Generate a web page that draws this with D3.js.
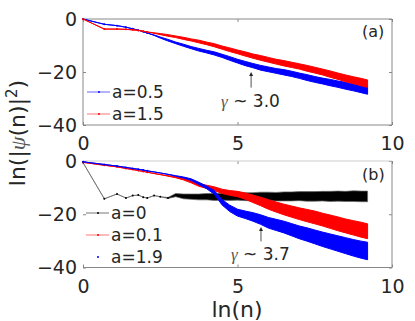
<!DOCTYPE html>
<html>
<head>
<meta charset="utf-8">
<script src="https://cdn.jsdelivr.net/npm/d3@7"></script>
<style>
  body { margin: 0; background: #fff; }
  text { font-family: "DejaVu Sans", sans-serif; fill: #262626; }
</style>
</head>
<body>
<div id="chart"></div>
<script>
// ln(n) grid (first points are n = 1..8)
var lnN = [0, 0.69, 1.10, 1.39, 1.61, 1.79, 1.95, 2.08, 2.3, 2.5, 2.75, 3.0, 3.25, 3.5, 3.75, 4.0, 4.25, 4.5,
  4.75, 5.0, 5.25, 5.5, 5.75, 6.0, 6.25, 6.5, 6.75, 7.0, 7.25, 7.5, 7.75, 8.0, 8.25, 8.5, 8.75, 9.0, 9.21];

// panel (a): ln|psi(n)|^2, centre of the trace and half spread of its noise
var topA05 = [0, -2.0, -2.5, -3.1, -3.7, -4.2, -4.8, -5.3, -6.1, -7.0, -8.0, -9.0, -9.9, -10.8, -11.6, -12.3, -13.0, -13.9,
  -14.9, -15.9, -16.8, -17.6, -18.4, -19.0, -19.6, -20.1, -20.7, -21.4, -22.1, -22.8, -23.4, -24.0, -24.6, -25.2, -25.8, -26.4, -27.0];
var topA05Spread = [0, 0, 0, 0, 0, 0, 0, 0, 0.1, 0.2, 0.3, 0.3, 0.4, 0.4, 0.5, 0.5, 0.6, 0.6,
  0.7, 0.7, 0.8, 0.8, 0.9, 0.9, 0.9, 1.0, 1.0, 1.0, 1.1, 1.1, 1.1, 1.2, 1.2, 1.3, 1.3, 1.4, 1.4];
var topA15 = [0, -3.8, -3.8, -3.9, -4.1, -4.3, -4.6, -4.9, -5.3, -5.7, -6.2, -6.7, -7.3, -7.9, -8.5, -9.2, -9.9, -10.8,
  -11.6, -12.4, -13.2, -14.0, -14.7, -15.4, -16.1, -16.7, -17.3, -17.9, -18.6, -19.3, -20.0, -20.8, -21.6, -22.4, -23.1, -23.8, -24.4];
var topA15Spread = [0, 0, 0, 0, 0, 0, 0, 0, 0.1, 0.2, 0.3, 0.3, 0.4, 0.4, 0.5, 0.5, 0.6, 0.6,
  0.7, 0.7, 0.8, 0.8, 0.9, 0.9, 0.9, 1.0, 1.0, 1.0, 1.1, 1.1, 1.1, 1.2, 1.2, 1.3, 1.3, 1.4, 1.4];

// panel (b)
var botA0 = [-0.6, -14.2, -12.4, -13.9, -13.0, -12.8, -13.6, -13.9, -13.0, -13.4, -13.9, -12.8, -13.3, -13.4, -13.5, -13.4, -13.5, -13.4,
  -13.4, -13.3, -13.4, -13.4, -13.3, -13.3, -13.4, -13.3, -13.3, -13.2, -13.3, -13.3, -13.2, -13.3, -13.2, -13.3, -13.2, -13.3, -13.3];
var botA0Spread = [0, 0, 0, 0, 0, 0, 0, 0, 0, 0, 0.2, 0.6, 0.9, 1.0, 1.1, 1.2, 1.3, 1.3,
  1.4, 1.4, 1.5, 1.5, 1.6, 1.6, 1.6, 1.7, 1.7, 1.7, 1.8, 1.8, 1.8, 1.9, 1.9, 1.9, 2.0, 2.0, 2.0];
var botA01 = [-0.5, -1.6, -2.2, -2.8, -3.2, -3.6, -3.9, -4.2, -4.7, -5.1, -5.6, -6.1, -6.8, -7.8, -9.0, -9.7, -10.4, -11.4,
  -12.0, -12.4, -13.2, -14.2, -15.2, -16.3, -17.3, -18.2, -19.0, -19.8, -20.5, -21.2, -22.0, -22.8, -23.6, -24.4, -25.1, -25.8, -26.4];
var botA01Spread = [0, 0, 0, 0, 0, 0, 0, 0, 0, 0, 0.1, 0.2, 0.3, 0.4, 0.5, 0.6, 0.7, 0.8,
  0.9, 1.0, 1.2, 1.4, 1.6, 1.8, 1.9, 2.0, 2.1, 2.2, 2.3, 2.4, 2.4, 2.5, 2.6, 2.6, 2.7, 2.8, 2.8];
var botA19 = [-0.3, -1.3, -1.9, -2.4, -2.8, -3.1, -3.4, -3.7, -4.1, -4.5, -5.0, -5.6, -6.2, -7.0, -8.4, -9.9, -11.8, -15.5,
  -17.8, -19.4, -20.2, -21.0, -22.0, -23.2, -24.0, -24.8, -25.8, -26.8, -27.6, -28.5, -29.4, -30.2, -31.0, -31.8, -32.6, -33.3, -33.8];
var botA19Spread = [0, 0, 0, 0, 0, 0, 0, 0, 0, 0, 0, 0.1, 0.2, 0.3, 0.4, 0.5, 0.7, 1.0,
  1.2, 1.3, 1.4, 1.6, 1.8, 2.0, 2.1, 2.2, 2.3, 2.4, 2.5, 2.6, 2.7, 2.8, 2.9, 3.0, 3.1, 3.2, 3.3];

var xTicks = [0, 5, 10];
var yTicks = [-40, -20, 0];

var width = 415, height = 321;

var svg = d3.select("#chart").append("svg")
  .attr("width", width)
  .attr("height", height);

var x = d3.scaleLinear().domain([0, 10]).range([83, 392]);
var yTop = d3.scaleLinear().domain([-40, 0]).range([125, 19]);
var yBot = d3.scaleLinear().domain([-40, 0]).range([267.5, 161]);

function drawAxes(y, opts) {
  var g = svg.append("g");
  g.append("g").attr("transform", "translate(83,0)")
    .call(d3.axisLeft(y).tickValues(yTicks).tickSize(-3).tickPadding(6));
  g.append("g").attr("transform", "translate(0," + y.range()[0] + ")")
    .call(d3.axisBottom(x).tickValues(xTicks).tickSize(-3).tickPadding(12));
  g.append("g").attr("transform", "translate(392,0)")
    .call(d3.axisRight(y).tickValues(yTicks).tickSize(-3).tickFormat(""));
  g.append("g").attr("transform", "translate(0," + y.range()[1] + ")")
    .call(d3.axisTop(x).tickValues(xTicks).tickSize(-3).tickFormat(""));
  g.selectAll(".domain").remove();
  g.selectAll(".tick line").attr("stroke", "#888");
  g.selectAll(".tick text").attr("font-size", 19).attr("fill", "#262626")
    .style("font-family", "DejaVu Sans");

  // box
  var y0 = y.range()[0], y1 = y.range()[1];
  g.append("line").attr("x1", 83).attr("x2", 392).attr("y1", y0).attr("y2", y0).attr("stroke", "#888");
  g.append("line").attr("x1", 392).attr("x2", 392).attr("y1", y0).attr("y2", y1).attr("stroke", "#888");
  g.append("line").attr("x1", 83).attr("x2", 392).attr("y1", y1).attr("y2", y1)
    .attr("stroke", opts.topColor);
  if (opts.leftLine) {
    g.append("line").attr("x1", 83).attr("x2", 83).attr("y1", y0).attr("y2", y1).attr("stroke", "#888");
  }
}

function drawSeries(y, values, spread, color, edge, lineWidth, dots) {
  var rows = lnN.map(function (v, i) {
    return { x: v, c: values[i], s: spread[i] };
  });
  var area = d3.area()
    .x(function (d) { return x(d.x); })
    .y0(function (d) { return y(d.c - d.s); })
    .y1(function (d) { return y(d.c + d.s); });
  svg.append("path")
    .datum(rows)
    .attr("d", area)
    .attr("fill", color)
    .attr("stroke", edge)
    .attr("stroke-width", lineWidth)
    .attr("stroke-linejoin", "round");
  // markers on the sparse first points
  svg.selectAll(null)
    .data(rows.slice(0, dots))
    .enter()
    .append("circle")
    .attr("cx", function (d) { return x(d.x); })
    .attr("cy", function (d) { return y(d.c); })
    .attr("r", 1)
    .attr("fill", color);
}

drawAxes(yTop, { topColor: "#888", leftLine: true });
drawAxes(yBot, { topColor: "#ccc", leftLine: false });

drawSeries(yTop, topA05, topA05Spread, "#0000ff", "#0000ff", 1, 8);
drawSeries(yTop, topA15, topA15Spread, "#ff0000", "#ff0000", 1, 8);

drawSeries(yBot, botA0, botA0Spread, "#000", "#666", 0.7, 12);
drawSeries(yBot, botA01, botA01Spread, "#ff0000", "#ff0000", 1, 8);
drawSeries(yBot, botA19, botA19Spread, "#0000ff", "#0000ff", 1, 8);

// legends
function legend(items, x0, y0) {
  items.forEach(function (it, i) {
    var yy = y0 + i * 22;
    if (it.line) {
      svg.append("line").attr("x1", x0).attr("x2", x0 + 23).attr("y1", yy).attr("y2", yy)
        .attr("stroke", it.line).attr("stroke-width", 1);
    }
    svg.append("circle").attr("cx", x0 + 12).attr("cy", yy).attr("r", 1).attr("fill", it.dot);
    svg.append("text").attr("x", x0 + 25).attr("y", yy).attr("dy", "0.36em")
      .attr("font-size", 17).text(it.label);
  });
}
legend([
  { label: "a=0.5", line: "#6666ff", dot: "#0000ff" },
  { label: "a=1.5", line: "#ff7777", dot: "#ff0000" }
], 87, 92);
legend([
  { label: "a=0", line: "#777", dot: "#000" },
  { label: "a=0.1", line: "#ff7777", dot: "#ff0000" },
  { label: "a=1.9", line: null, dot: "#0000ff" }
], 86, 213);

// panel labels
svg.append("text").attr("x", 362).attr("y", 37).attr("font-size", 16).text("(a)");
svg.append("text").attr("x", 362).attr("y", 180).attr("font-size", 16).text("(b)");

// slope annotations
function annot(xv, yv, yTail, y, label) {
  var px = x(xv);
  svg.append("line").attr("x1", px).attr("x2", px)
    .attr("y1", y(yTail)).attr("y2", y(yv) + 3)
    .attr("stroke", "#262626").attr("stroke-width", 0.8);
  svg.append("path")
    .attr("d", "M" + (px - 2) + "," + (y(yv) + 4) + "L" + px + "," + y(yv) + "L" + (px + 2) + "," + (y(yv) + 4) + "Z")
    .attr("fill", "#262626");
  var t = svg.append("text").attr("x", px - 30).attr("y", y(yTail) + 19).attr("font-size", 17);
  t.append("tspan").style("font-family", "Liberation Serif").style("font-style", "italic")
    .attr("fill", "#555").text("γ");
  t.append("tspan").text(" ~ " + label);
}
annot(5.44, -20.0, -25.9, yTop, "3.0");
annot(5.76, -24.8, -30.2, yBot, "3.7");

// axis titles
svg.append("text")
  .attr("x", 237).attr("y", 317)
  .attr("text-anchor", "middle")
  .attr("font-size", 22)
  .text("ln(n)");

var yl = svg.append("text")
  .attr("transform", "translate(25,133) rotate(-90)")
  .attr("text-anchor", "middle")
  .attr("font-size", 22);
yl.append("tspan").text("ln(|");
yl.append("tspan").style("font-family", "Liberation Serif").style("font-style", "italic")
  .attr("fill", "#555").text("ψ");
yl.append("tspan").text("(n)|");
yl.append("tspan").attr("dy", -8).attr("font-size", 15).text("2");
yl.append("tspan").attr("dy", 8).text(")");
</script>
</body>
</html>
